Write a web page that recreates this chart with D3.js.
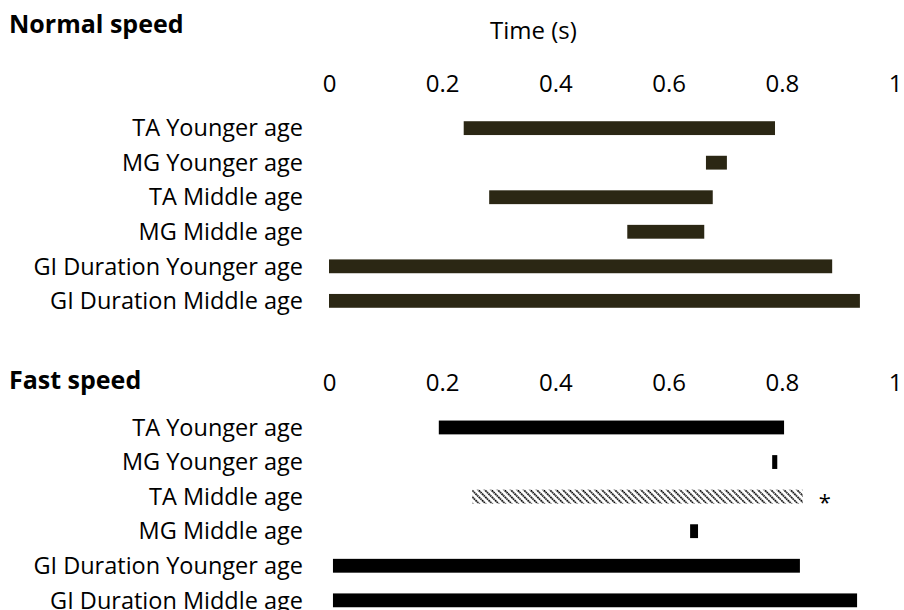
<!DOCTYPE html>
<html>
<head>
<meta charset="utf-8">
<script src="https://cdn.jsdelivr.net/npm/d3@7"></script>
<style>
  body { margin: 0; background: #fff; }
  text { font-family: "Open Sans", sans-serif; fill: #000; }
</style>
</head>
<body>
<svg width="904" height="610"></svg>
<script>
// row labels, top to bottom
var categories = ["TA Younger age", "MG Younger age", "TA Middle age", "MG Middle age",
  "GI Duration Younger age", "GI Duration Middle age"]
var ticks = [0, 0.2, 0.4, 0.6, 0.8, 1]

// bar start / end in seconds
var normalStart = [0.238, 0.666, 0.283, 0.527, 0.0, 0.0]
var normalEnd   = [0.788, 0.703, 0.678, 0.663, 0.889, 0.938]
var fastStart   = [0.194, 0.783, 0.253, 0.638, 0.007, 0.007]
var fastEnd     = [0.804, 0.792, 0.837, 0.652, 0.832, 0.933]
// which fast bars are significant (hatched + asterisk)
var fastSig     = [false, false, true, false, false, false]

var svg = d3.select("svg")

var defs = svg.append("defs")
var pat = defs.append("pattern")
  .attr("id", "hatch")
  .attr("patternUnits", "userSpaceOnUse")
  .attr("width", 4.6).attr("height", 4.6)
  .attr("patternTransform", "rotate(-45)")
pat.append("rect").attr("width", 4.6).attr("height", 4.6).attr("fill", "#fff")
pat.append("line")
  .attr("x1", 1).attr("y1", 0).attr("x2", 1).attr("y2", 4.6)
  .attr("stroke", "#000").attr("stroke-width", 1.8)
  .attr("stroke-dasharray", "1.6,0.7")

var x = d3.scaleLinear().domain([0, 1]).range([329, 895])

function panel (title, titleY, axisY, yRange, starts, ends, color, sig) {
  var y = d3.scaleBand().domain(categories).range(yRange).padding(0.6)

  svg.append("text")
    .attr("x", 9).attr("y", titleY)
    .attr("font-weight", "bold")
    .attr("font-size", 25)
    .text(title)

  var ax = svg.append("g")
    .attr("transform", "translate(0," + (axisY + 9) + ")")
    .call(d3.axisTop(x).tickValues(ticks).tickSize(0).tickPadding(0).tickFormat(d3.format("")))
  ax.select(".domain").remove()
  ax.selectAll("text").attr("font-size", 24).attr("font-family", "Open Sans, sans-serif").attr("fill", "#000")

  svg.append("g").selectAll("text")
    .data(categories)
    .enter().append("text")
    .attr("x", 303)
    .attr("y", d => y(d) + y.bandwidth() / 2)
    .attr("dy", "0.35em")
    .attr("text-anchor", "end")
    .attr("font-size", 23.5)
    .text(d => d)

  var rows = categories.map((c, i) => ({ cat: c, s: starts[i], e: ends[i], sig: sig ? sig[i] : false }))

  svg.append("g").selectAll("rect")
    .data(rows)
    .enter().append("rect")
    .attr("x", d => x(d.s))
    .attr("y", d => y(d.cat))
    .attr("width", d => x(d.e) - x(d.s))
    .attr("height", y.bandwidth())
    .attr("fill", d => d.sig ? "url(#hatch)" : color)

  svg.append("g").selectAll("text")
    .data(rows.filter(d => d.sig))
    .enter().append("text")
    .attr("x", d => x(d.e) + 16)
    .attr("y", d => y(d.cat) + y.bandwidth() / 2)
    .attr("dy", "0.6em")
    .attr("font-size", 22)
    .text("*")
}

panel("Normal speed", 33, 83, [100.5, 328.5], normalStart, normalEnd, "#2b2714")
panel("Fast speed", 389, 382, [399.8, 628], fastStart, fastEnd, "#000", fastSig)

svg.append("text")
  .attr("x", 490).attr("y", 39)
  .attr("font-size", 24)
  .text("Time (s)")
</script>
</body>
</html>
